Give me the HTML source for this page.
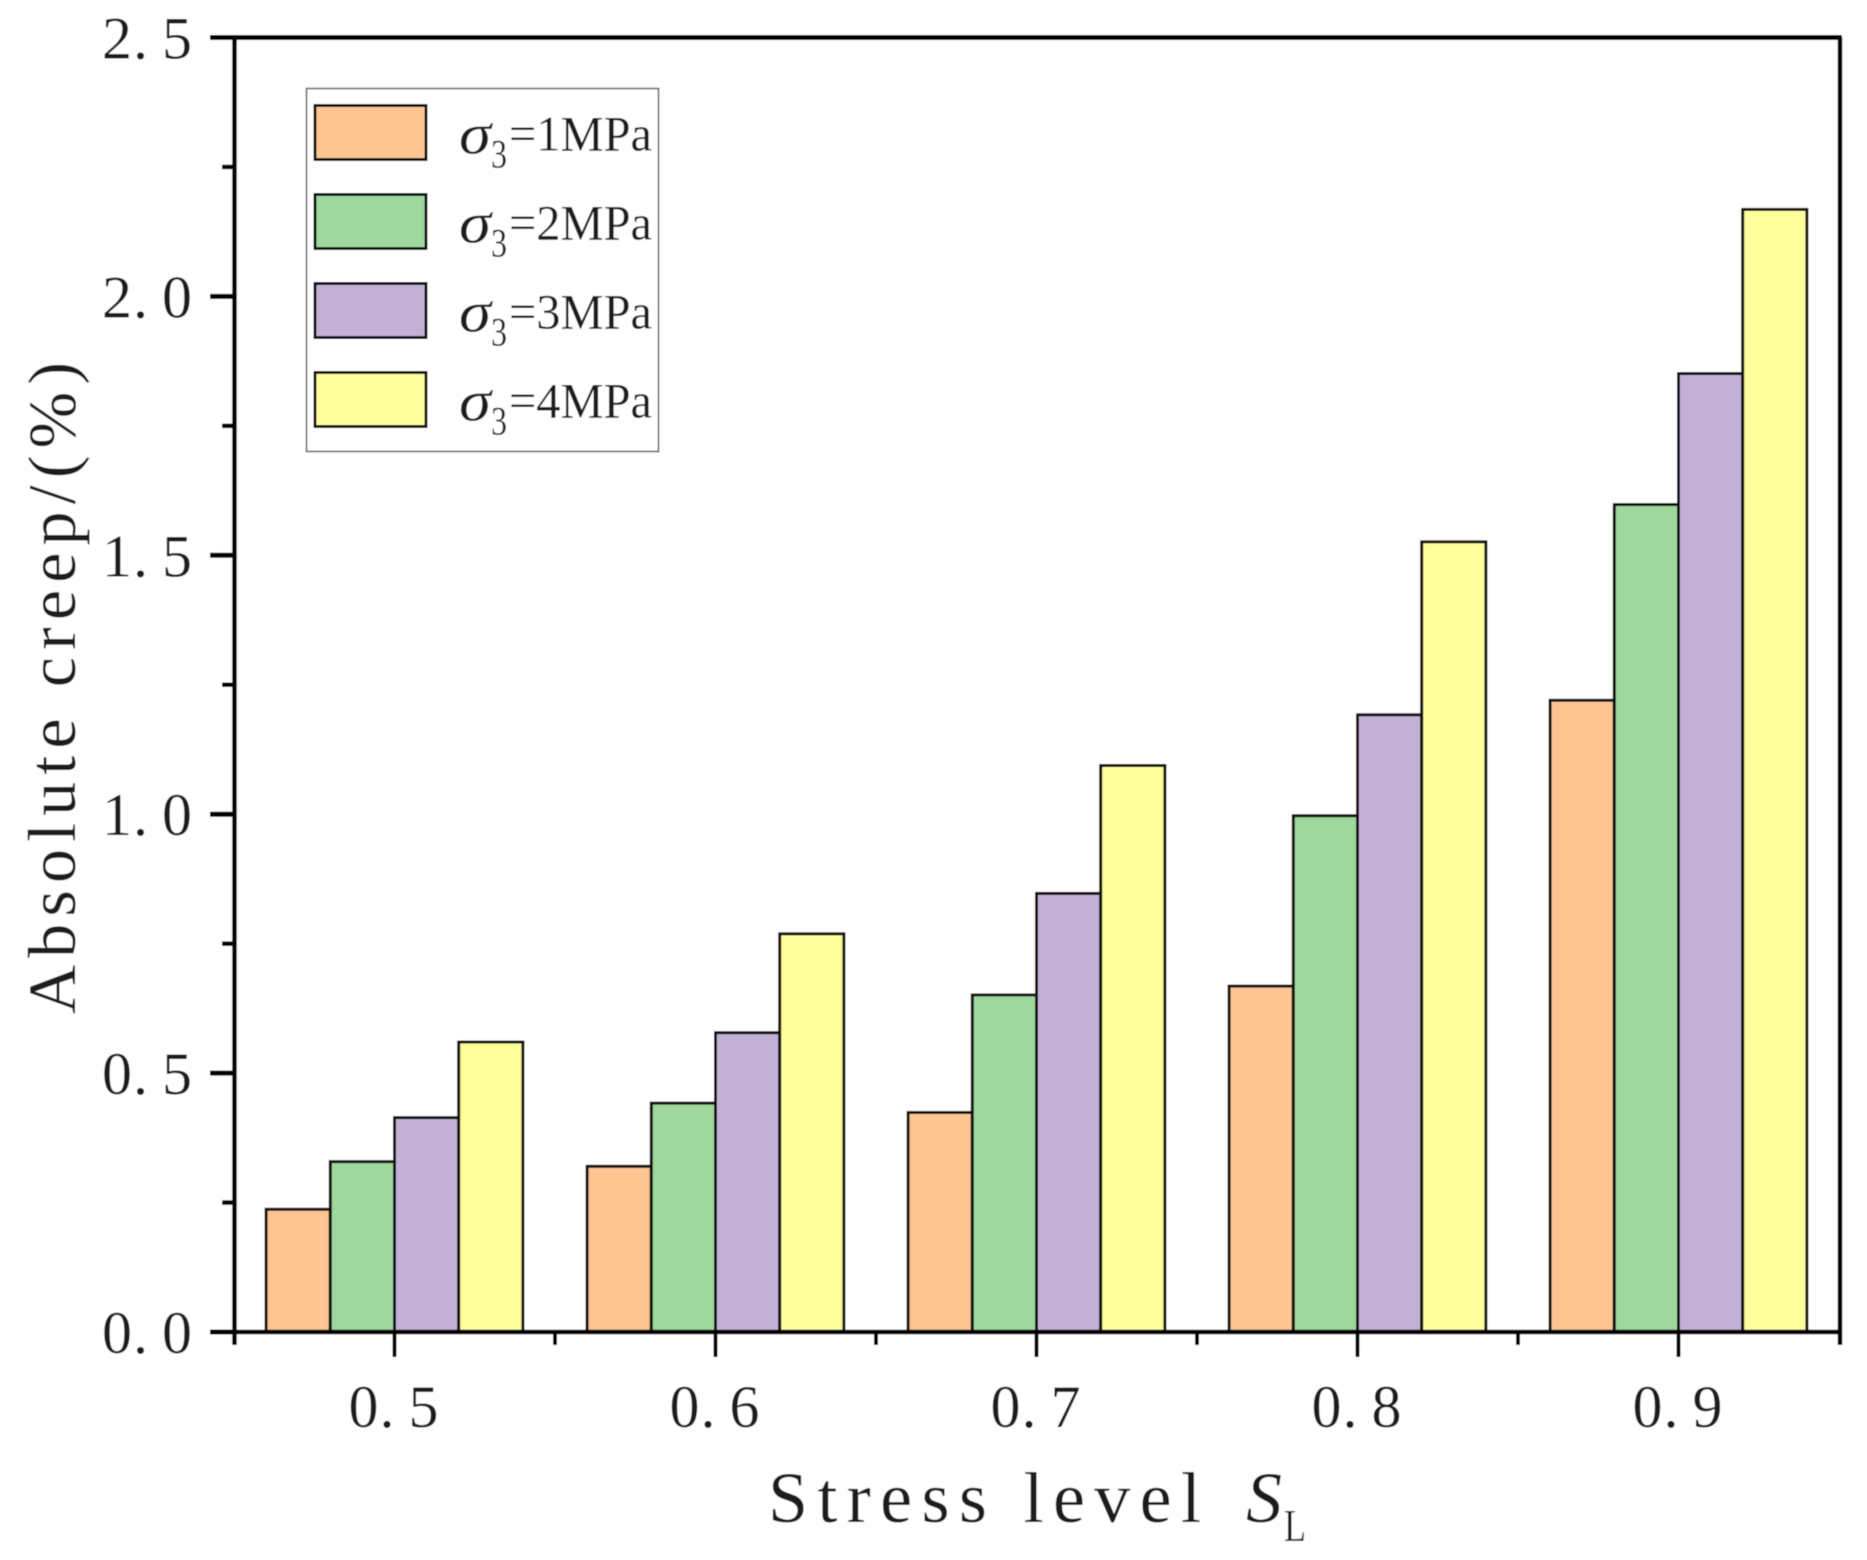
<!DOCTYPE html>
<html lang="en">
<head>
<meta charset="utf-8">
<title>Absolute creep vs stress level</title>
<style>
html,body{margin:0;padding:0;background:#fff;}
svg{display:block;}
text{font-family:"Liberation Serif","Noto Serif CJK SC",serif;fill:#1a1a1a;}
</style>
</head>
<body>
<svg id="chart" xmlns="http://www.w3.org/2000/svg" width="1867" height="1560" viewBox="0 0 1867 1560">
  <defs><filter id="soft" x="0" y="0" width="100%" height="100%"><feGaussianBlur stdDeviation="0.6"/></filter></defs>
  <g id="root" filter="url(#soft)">
    <rect x="0" y="0" width="1867" height="1560" fill="#fff"/>
    <g id="bars"></g>
    <g id="axes"></g>
    <g id="legend"></g>
    <text transform="translate(75,1014) rotate(-90)" font-size="68" textLength="652" lengthAdjust="spacing">Absolute creep/(%)</text>
    <text x="768" y="1522" font-size="72" textLength="433" lengthAdjust="spacing">Stress level</text>
    <text x="1246" y="1522" font-size="72" font-style="italic">S</text>
    <text x="1284" y="1541" font-size="46" textLength="22" lengthAdjust="spacingAndGlyphs">L</text>
  </g>
</svg>
<script>
const categories = ["0.5", "0.6", "0.7", "0.8", "0.9"];
const seriesNames = ["1", "2", "3", "4"];
const seriesS1 = [0.237, 0.320, 0.424, 0.668, 1.220];
const seriesS2 = [0.329, 0.442, 0.651, 0.997, 1.598];
const seriesS3 = [0.414, 0.578, 0.847, 1.192, 1.851];
const seriesS4 = [0.560, 0.769, 1.094, 1.526, 2.168];
const yTickLabels = ["0.0", "0.5", "1.0", "1.5", "2.0", "2.5"];
const seriesColors = ["#FFC592", "#9ED89C", "#C2B1D7", "#FFFF9B"];

const allSeries = [seriesS1, seriesS2, seriesS3, seriesS4];
const NS = "http://www.w3.org/2000/svg";
const plotLeft = 234, plotRight = 1839, frameRight = 1840, plotTop = 37.5, plotBottom = 1332;
const yMax = 2.5;
const catStep = (plotRight - plotLeft) / categories.length;
const barWidth = catStep * 0.8 / allSeries.length;
const labelCharX = "0 31 60";
function yScale(v) { return plotBottom - (v / yMax) * (plotBottom - plotTop); }
function xCenter(i) { return plotLeft + catStep * (i + 0.5); }
function make(tag, parent, attrs) {
  const el = document.createElementNS(NS, tag);
  for (const k in attrs) el.setAttribute(k, attrs[k]);
  parent.appendChild(el);
  return el;
}
const barsG = document.getElementById("bars");
const axesG = document.getElementById("axes");
const legendG = document.getElementById("legend");

allSeries.forEach(function (vals, s) {
  vals.forEach(function (v, i) {
    const r = make("rect", barsG, {
      x: xCenter(i) - 2 * barWidth + s * barWidth,
      y: yScale(v),
      width: barWidth,
      height: plotBottom - yScale(v),
      fill: seriesColors[s],
      stroke: "#111",
      "stroke-width": 3
    });
    
    
  });
});

function axisLine(x1, y1, x2, y2, w, name) {
  const l = make("line", axesG, { x1: x1, y1: y1, x2: x2, y2: y2, stroke: "#000", "stroke-width": w });
  
  
  return l;
}
axisLine(plotLeft + 0.5, plotTop, plotLeft + 0.5, plotBottom + 13, 4.5, 'y-axis-line');
axisLine(frameRight, plotTop, frameRight, plotBottom + 13, 4.5, 'right-axis-line');
axisLine(210, plotTop, frameRight + 2, plotTop, 5, 'top-axis-line');
axisLine(210, plotBottom, frameRight + 2, plotBottom, 4.5, 'x-axis-line');

yTickLabels.forEach(function (lab, i) {
  const v = parseFloat(lab);
  const y = yScale(v);
  axisLine(210, y, plotLeft, y, 5, 'y-major-tick');
  if (i < yTickLabels.length - 1) {
    const my = yScale(v + (yMax / (yTickLabels.length - 1)) / 2);
    axisLine(222, my, plotLeft, my, 4.5, 'y-minor-tick');
  }
  const t = make("text", axesG, { transform: "translate(102," + (y + 21) + ")", x: labelCharX, y: 0, "font-size": 60 });
  
  
  t.textContent = lab;
});

categories.forEach(function (lab, i) {
  const x = xCenter(i);
  axisLine(x, plotBottom, x, plotBottom + 25, 4, 'x-major-tick');
  if (i > 0) axisLine(plotLeft + catStep * i, plotBottom, plotLeft + catStep * i, plotBottom + 13, 4, 'x-minor-tick');
  const t = make("text", axesG, { transform: "translate(" + (x - 46) + "," + (plotBottom + 95) + ")", x: labelCharX, y: 0, "font-size": 60 });
  
  
  t.textContent = lab;
});

const legendBox = make("rect", legendG, { x: 306.5, y: 88.5, width: 352, height: 363, fill: "#fff", stroke: "#666", "stroke-width": 1.6 });


seriesNames.forEach(function (nm, s) {
  const top = 105.5 + s * 89;
  const sw = make("rect", legendG, { x: 315, y: top, width: 111, height: 54, fill: seriesColors[s], stroke: "#111", "stroke-width": 3 });
  
  
  const sig = make("text", legendG, { x: 459, y: top + 48, "font-size": 58, "font-style": "italic", textLength: 32, lengthAdjust: "spacingAndGlyphs" });
  
  
  sig.textContent = "\u03C3";
  const sub = make("text", legendG, { x: 491, y: top + 62, "font-size": 40, textLength: 16, lengthAdjust: "spacingAndGlyphs" });
  
  
  sub.textContent = "3";
  const lab = make("text", legendG, { x: 509, y: top + 45, "font-size": 50, textLength: 143, lengthAdjust: "spacingAndGlyphs" });
  
  
  lab.textContent = "=" + nm + "MPa";
});
</script>
</body>
</html>
